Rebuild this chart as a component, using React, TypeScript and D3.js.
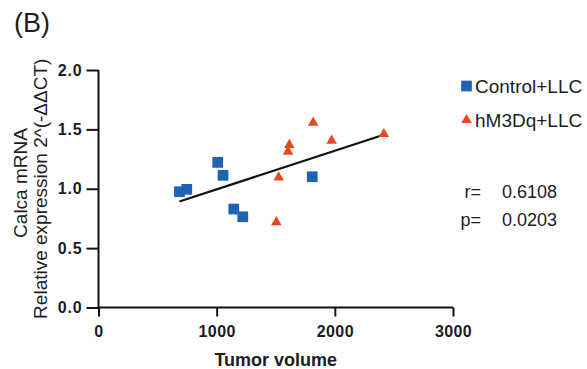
import React, { useEffect, useRef } from 'react';
import * as d3 from 'd3';

const controlVolume = [685, 747, 1009, 1054, 1145, 1221, 1809];
const controlExpr = [0.975, 0.995, 1.222, 1.113, 0.829, 0.764, 1.101];
const hm3dqVolume = [1817, 1615, 1604, 1973, 2415, 1525, 1505];
const hm3dqExpr = [1.557, 1.369, 1.312, 1.405, 1.461, 1.096, 0.719];

const xTicks = [0, 1000, 2000, 3000];
const yTicks = [0, 0.5, 1.0, 1.5, 2.0];
const seriesNames = ['Control+LLC', 'hM3Dq+LLC'];
const statLabels = ['r=', 'p='];
const statValues = ['0.6108', '0.0203'];

const BLUE = '#1E62B6';
const RED = '#E8461F';
const INK = '#1c1c24';

interface Pt {
  x: number;
  y: number;
}

export default function App() {
  const svgRef = useRef<SVGSVGElement>(null);

  useEffect(() => {
    if (!svgRef.current) return;
    const width = 587;
    const height = 369;
    const svg = d3.select(svgRef.current);
    svg.selectAll('*').remove();
    svg.attr('width', width).attr('height', height);

    svg.append('rect').attr('width', width).attr('height', height).attr('fill', '#fff');

    const xScale = d3.scaleLinear().domain([0, 3000]).range([98.5, 453]);
    const yScale = d3.scaleLinear().domain([0, 2]).range([307.5, 70]);

    const control: Pt[] = controlVolume.map((x, i) => ({ x, y: controlExpr[i] }));
    const hm3dq: Pt[] = hm3dqVolume.map((x, i) => ({ x, y: hm3dqExpr[i] }));
    const all = control.concat(hm3dq);

    // least squares fit across both groups
    const mx = d3.mean(all, (d) => d.x) || 0;
    const my = d3.mean(all, (d) => d.y) || 0;
    const sxy = d3.sum(all, (d) => (d.x - mx) * (d.y - my));
    const sxx = d3.sum(all, (d) => (d.x - mx) ** 2);
    const slope = sxy / sxx;
    const intercept = my - slope * mx;
    const [x0, x1] = d3.extent(all, (d) => d.x) as [number, number];
    const fit: Pt[] = [x0, x1].map((x) => ({ x, y: intercept + slope * x }));

    const font = 'Arial, "Liberation Sans", sans-serif';

    // y axis
    const yAxis = svg.append('g').attr('transform', `translate(${xScale(0)},0)`);
    yAxis
      .call(
        d3
          .axisLeft(yScale)
          .tickValues(yTicks)
          .tickSize(12)
          .tickPadding(4)
          .tickFormat((d) => d3.format('.1f')(d as number))
      )
      .call((g) => g.select('.domain').attr('d', `M0,${yScale(2)}V${yScale(0) + 1}`));
    yAxis.selectAll('path, line').attr('stroke', '#111').attr('stroke-width', 2);
    yAxis
      .selectAll('text')
      .attr('font-family', font)
      .attr('font-size', 16)
      .attr('font-weight', 'bold')
      .attr('letter-spacing', 0.8)
      .attr('fill', INK);

    // x axis
    const xAxis = svg.append('g').attr('transform', `translate(0,${yScale(0)})`);
    xAxis
      .call(
        d3
          .axisBottom(xScale)
          .tickValues(xTicks)
          .tickSize(9)
          .tickPadding(9)
          .tickFormat((d) => String(d))
      )
      .call((g) => g.select('.domain').attr('d', `M${xScale(0) - 1},0H${xScale(3000)}`));
    xAxis.selectAll('path, line').attr('stroke', '#111').attr('stroke-width', 2);
    xAxis
      .selectAll('text')
      .attr('font-family', font)
      .attr('font-size', 16)
      .attr('font-weight', 'bold')
      .attr('letter-spacing', 0.4)
      .attr('fill', INK);

    // regression line
    const line = d3
      .line<Pt>()
      .x((d) => xScale(d.x))
      .y((d) => yScale(d.y));
    svg
      .append('path')
      .datum(fit)
      .attr('fill', 'none')
      .attr('stroke', '#111')
      .attr('stroke-width', 2.2)
      .attr('d', line);

    const square = d3.symbol().type(d3.symbolSquare).size(115);
    const triangle = d3.symbol().type(d3.symbolTriangle).size(48);

    svg
      .append('g')
      .selectAll('path')
      .data(control)
      .join('path')
      .attr('transform', (d) => `translate(${xScale(d.x)},${yScale(d.y)})`)
      .attr('d', square)
      .attr('fill', BLUE);

    svg
      .append('g')
      .selectAll('path')
      .data(hm3dq)
      .join('path')
      .attr('transform', (d) => `translate(${xScale(d.x)},${yScale(d.y)})`)
      .attr('d', triangle)
      .attr('fill', RED);

    // panel tag
    svg
      .append('text')
      .attr('x', 14)
      .attr('y', 32)
      .attr('font-family', font)
      .attr('font-size', 27)
      .attr('fill', INK)
      .text('(B)');

    // axis titles
    const yMid = (yScale(0) + yScale(2)) / 2;
    svg
      .append('text')
      .attr('transform', `translate(27,183) rotate(-90)`)
      .attr('text-anchor', 'middle')
      .attr('font-family', font)
      .attr('font-size', 19)
      .attr('fill', INK)
      .text('Calca mRNA');
    svg
      .append('text')
      .attr('transform', `translate(47,${yMid}) rotate(-90)`)
      .attr('text-anchor', 'middle')
      .attr('font-family', font)
      .attr('font-size', 19)
      .attr('fill', INK)
      .text('Relative expression 2^(-ΔΔCT)');
    svg
      .append('text')
      .attr('x', (xScale(0) + xScale(3000)) / 2)
      .attr('y', 366)
      .attr('text-anchor', 'middle')
      .attr('font-family', font)
      .attr('font-size', 18)
      .attr('font-weight', 'bold')
      .attr('fill', INK)
      .text('Tumor volume');

    // legend
    const legend = svg.append('g');
    const legendY = [86, 120];
    legend
      .append('path')
      .attr('transform', `translate(466.5,${legendY[0]})`)
      .attr('d', square)
      .attr('fill', BLUE);
    legend
      .append('path')
      .attr('transform', `translate(466.5,${legendY[1]})`)
      .attr('d', triangle)
      .attr('fill', RED);
    legend
      .selectAll('text')
      .data(seriesNames)
      .join('text')
      .attr('x', 475)
      .attr('y', (_, i) => legendY[i])
      .attr('dy', '0.35em')
      .attr('font-family', font)
      .attr('font-size', 19)
      .attr('fill', INK)
      .text((d) => d);

    // stats
    const statY = [192, 220];
    svg
      .append('g')
      .selectAll('text')
      .data(statLabels)
      .join('text')
      .attr('x', 481)
      .attr('y', (_, i) => statY[i])
      .attr('dy', '0.35em')
      .attr('text-anchor', 'end')
      .attr('font-family', font)
      .attr('font-size', 18)
      .attr('fill', INK)
      .text((d) => d);
    svg
      .append('g')
      .selectAll('text')
      .data(statValues)
      .join('text')
      .attr('x', 502)
      .attr('y', (_, i) => statY[i])
      .attr('dy', '0.35em')
      .attr('font-family', font)
      .attr('font-size', 18)
      .attr('fill', INK)
      .text((d) => d);
  }, []);

  return <svg ref={svgRef} style={{ position: 'absolute', left: 0, top: 0 }} />;
}
